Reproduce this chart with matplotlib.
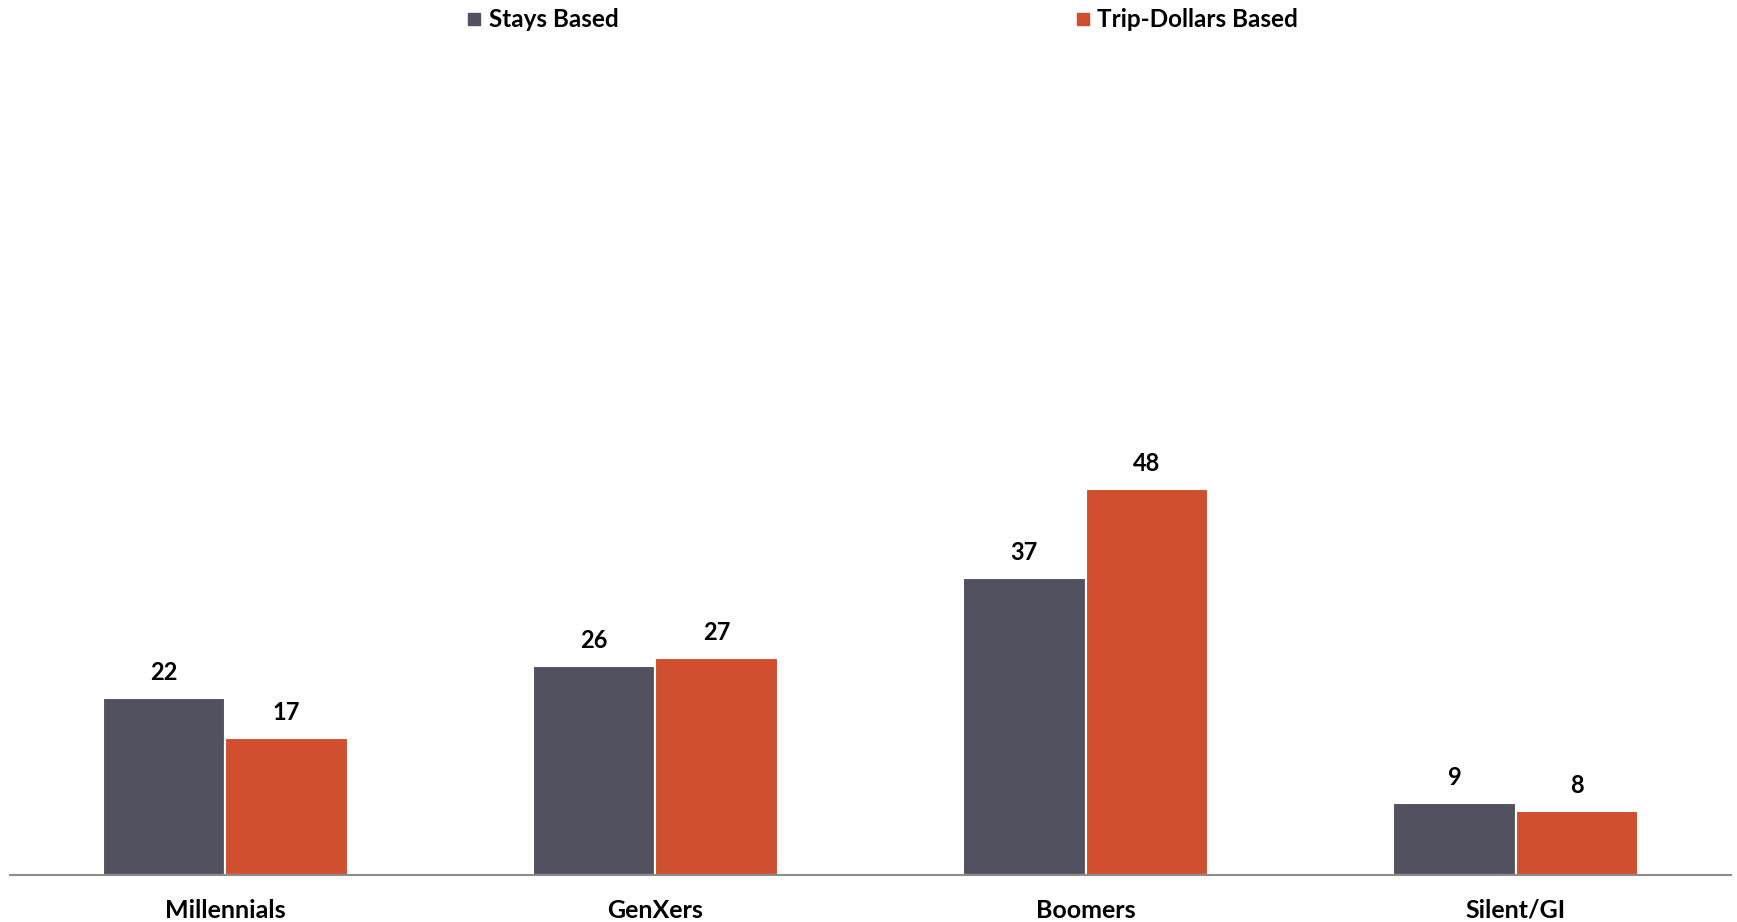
import matplotlib.pyplot as plt
import numpy as np
from matplotlib.lines import Line2D

# données
categories = ['Millennials', 'GenXers', 'Boomers', 'Silent/GI']
stays = [22, 26, 37, 9]
trip_dollars = [17, 27, 48, 8]
series_names = ['Stays Based', 'Trip-Dollars Based']
colors = ['#52515F', '#CF4F2E']

plt.rcParams['font.family'] = ['Lato', 'DejaVu Sans']

fig = plt.figure(figsize=(17.37, 9.22), dpi=100)
ax = fig.add_axes([10 / 1737, 47 / 922, 1721 / 1737, 828 / 922])

x = np.arange(len(categories))
w = 0.285
b1 = ax.bar(x - w / 2, stays, w, color=colors[0], edgecolor='white', linewidth=1.5)
b2 = ax.bar(x + w / 2, trip_dollars, w, color=colors[1], edgecolor='white', linewidth=1.5)

ax.bar_label(b1, padding=10, fontsize=17, fontweight='bold')
ax.bar_label(b2, padding=10, fontsize=17, fontweight='bold')

ax.set_xlim(-0.5, 3.5)
ax.set_ylim(0, 103)
ax.set_xticks(x)
ax.set_xticklabels(categories, fontsize=18, fontweight='bold')
ax.tick_params(axis='x', length=0, pad=17)
ax.set_yticks([])
for s in ['top', 'right', 'left']:
    ax.spines[s].set_visible(False)
ax.spines['bottom'].set_color('#8C8C8C')
ax.spines['bottom'].set_linewidth(1.5)

# légende en haut
handles = [Line2D([], [], marker='s', linestyle='none', markersize=9, color=c) for c in colors]
fig.legend(handles, series_names, loc='upper center', bbox_to_anchor=(0.508, 1.015), ncol=2,
           frameon=False, prop={'size': 17.5, 'weight': 'bold'},
           handlelength=0.6, handletextpad=0.3, columnspacing=18.8)

fig.savefig('out.png', dpi=100)
